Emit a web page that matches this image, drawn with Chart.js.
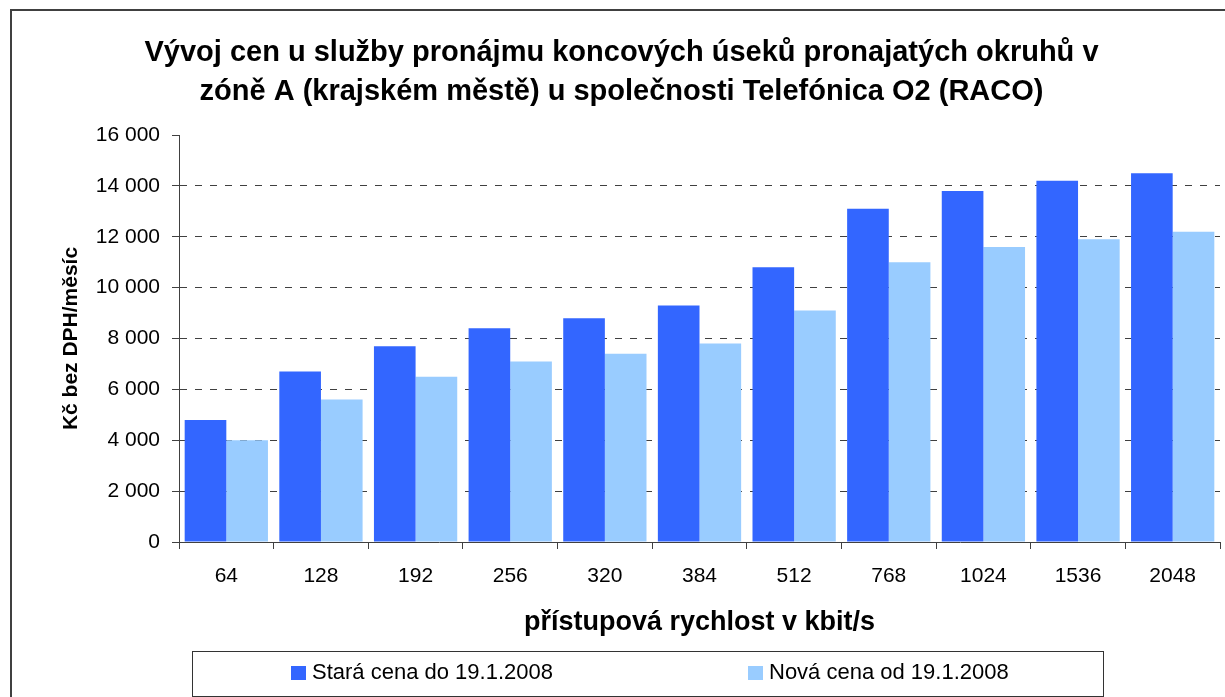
<!DOCTYPE html>
<html>
<head>
<meta charset="utf-8">
<script src="https://cdn.jsdelivr.net/npm/chart.js@4"></script>
<style>
  body { margin: 0; background: #fff; }
  canvas { display: block; }
</style>
</head>
<body>
<canvas id="priceChart" width="1225" height="697"></canvas>
<script>
// Data
const speeds = ['64', '128', '192', '256', '320', '384', '512', '768', '1024', '1536', '2048'];
const oldPrice = [4800, 6700, 7700, 8400, 8800, 9300, 10800, 13100, 13800, 14200, 14500];
const newPrice = [4000, 5600, 6500, 7100, 7400, 7800, 9100, 11000, 11600, 11900, 12200];
const seriesNames = ['Stará cena do 19.1.2008', 'Nová cena od 19.1.2008'];
const titleLines = [
    'Vývoj cen u služby pronájmu koncových úseků pronajatých okruhů v',
    'zóně A (krajském městě) u společnosti Telefónica O2 (RACO)'
];

const FONT = "'Liberation Sans', Arial, sans-serif";
const AXIS_COLOR = '#404040';

function spaced(v) {
    return String(v).replace(/\B(?=(\d{3})+(?!\d))/g, ' ');
}

// frame + boxed legend at the bottom, like the Excel original
const boxLegend = {
    id: 'boxLegend',
    afterDraw(chart) {
        const ctx = chart.ctx;
        ctx.save();
        ctx.strokeStyle = AXIS_COLOR;
        ctx.lineWidth = 2;
        ctx.strokeRect(11, 10, chart.width + 20, chart.height + 20);

        ctx.lineWidth = 1;
        ctx.strokeStyle = '#333';
        ctx.strokeRect(192.5, 651.5, 911, 45);

        const itemX = [291, 748];
        ctx.font = '22px ' + FONT;
        ctx.textBaseline = 'middle';
        chart.data.datasets.forEach((ds, i) => {
            ctx.fillStyle = ds.backgroundColor;
            ctx.fillRect(itemX[i], 666, 15, 14);
            ctx.fillStyle = '#000';
            ctx.fillText(ds.label, itemX[i] + 21, 673);
        });
        ctx.restore();
    }
};

const chart = new Chart(document.getElementById('priceChart'), {
    type: 'bar',
    data: {
        labels: speeds,
        datasets: [
            { label: seriesNames[0], data: oldPrice, backgroundColor: '#3366FF' },
            { label: seriesNames[1], data: newPrice, backgroundColor: '#99CCFF' }
        ]
    },
    options: {
        responsive: false,
        animation: false,
        devicePixelRatio: 1,
        layout: { padding: { left: 23, right: 5, top: 10, bottom: 58 } },
        datasets: {
            bar: { categoryPercentage: 0.88, barPercentage: 1.0 }
        },
        plugins: {
            legend: { display: false },
            tooltip: { enabled: false },
            title: {
                display: true,
                text: titleLines,
                color: '#000',
                font: { family: FONT, size: 29, weight: 'bold', lineHeight: 1.345 },
                padding: { top: 23, bottom: 24 }
            }
        },
        scales: {
            x: {
                grid: {
                    drawOnChartArea: false,
                    drawTicks: true,
                    tickLength: 7,
                    tickColor: AXIS_COLOR,
                    offset: true
                },
                border: { display: true, color: AXIS_COLOR, width: 1 },
                ticks: {
                    color: '#000',
                    font: { family: FONT, size: 21 },
                    padding: 15,
                    maxRotation: 0
                },
                title: {
                    display: true,
                    text: 'přístupová rychlost v kbit/s',
                    color: '#000',
                    font: { family: FONT, size: 27, weight: 'bold' },
                    padding: { top: 0, bottom: 0 }
                },
                afterFit(scale) { scale.height = 97; }
            },
            y: {
                min: 0,
                max: 16000,
                grid: {
                    color: (c) => (c.tick && (c.tick.value === 0 || c.tick.value === 16000)) ? 'rgba(0,0,0,0)' : AXIS_COLOR,
                    tickColor: AXIS_COLOR,
                    tickLength: 7,
                    lineWidth: 1
                },
                border: { display: true, color: AXIS_COLOR, width: 1, dash: [7, 8] },
                ticks: {
                    stepSize: 2000,
                    color: '#000',
                    font: { family: FONT, size: 21 },
                    padding: 12,
                    callback: (v) => spaced(v)
                },
                title: {
                    display: true,
                    text: 'Kč bez DPH/měsíc',
                    color: '#000',
                    font: { family: FONT, size: 21, weight: 'bold' },
                    padding: { top: 36, bottom: 10 }
                },
                afterFit(scale) { scale.width = 156; }
            }
        }
    },
    plugins: [boxLegend]
});
</script>
</body>
</html>
